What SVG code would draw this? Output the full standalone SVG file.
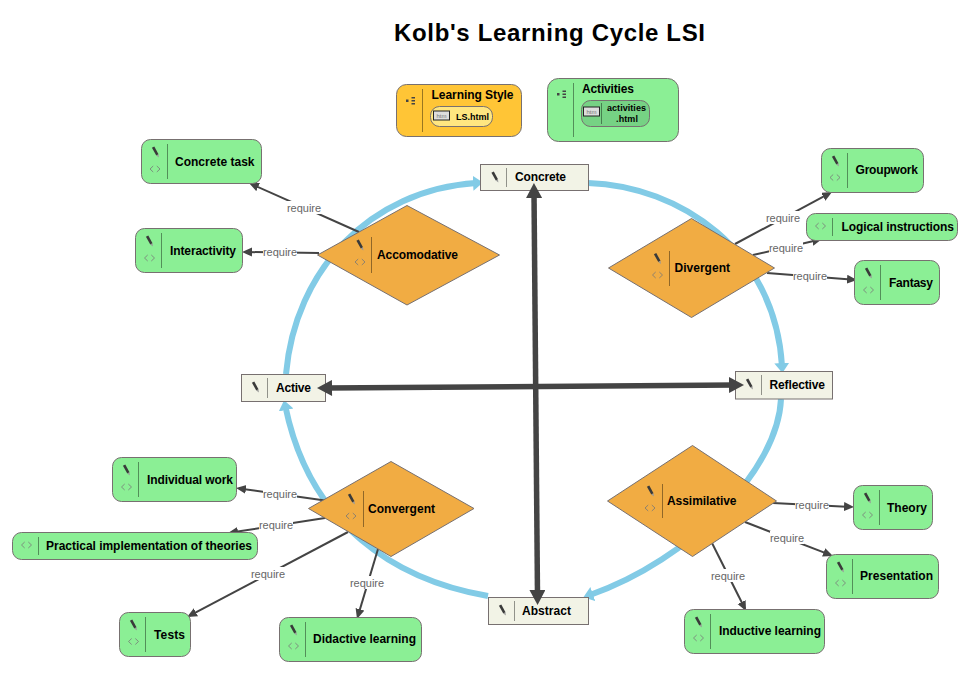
<svg xmlns="http://www.w3.org/2000/svg" xmlns:xlink="http://www.w3.org/1999/xlink" width="970" height="686" viewBox="0 0 970 686">
<style>
text{font-family:"Liberation Sans",Arial,sans-serif}
.t{font-size:12px;font-weight:bold;fill:#000}
.title{font-size:24px;font-weight:bold;fill:#000}
.small{font-size:9px;font-weight:bold;fill:#000}
.htm{font-size:6px;fill:#777;text-anchor:middle}
.req{font-size:11px;fill:#666;text-anchor:middle}
.lbg{fill:#fff}
.g{fill:#8bef95;stroke:#777070;stroke-width:1}
.o{fill:#f1ac43;stroke:#777070;stroke-width:1}
.y{fill:#ffc536;stroke:#777070;stroke-width:1}
.b{fill:#f2f3e6;stroke:#777070;stroke-width:1}
.d{stroke:#000;stroke-opacity:.4;stroke-width:1;fill:none}
.r{stroke:#444;stroke-width:2;fill:none;marker-end:url(#ah)}
.c{stroke:#82cbe6;stroke-width:6;fill:none;marker-end:url(#bh)}
.x{stroke:#444;stroke-width:5.5;fill:none;marker-start:url(#dhs);marker-end:url(#dh)}
</style>
<defs>
<marker id="ah" markerUnits="userSpaceOnUse" markerWidth="12" markerHeight="10" refX="7" refY="4.5" orient="auto"><path d="M0 0L10 4.5L0 9z" fill="#444"/></marker>
<marker id="bh" markerUnits="userSpaceOnUse" markerWidth="14" markerHeight="16" refX="3" refY="7.5" orient="auto"><path d="M0 0L10 7.5L0 15z" fill="#82cbe6"/></marker>
<marker id="dh" markerUnits="userSpaceOnUse" markerWidth="18" markerHeight="18" refX="6" refY="8" orient="auto"><path d="M0 0L15 8L0 16z" fill="#444"/></marker>
<marker id="dhs" markerUnits="userSpaceOnUse" markerWidth="18" markerHeight="18" refX="9" refY="8" orient="auto"><path d="M15 0L0 8L15 16z" fill="#444"/></marker>
<g id="pen"><path d="M-3.6 -4.2L-1.2 -5.4L3 2.3L.8 3.6z" fill="#3a3a3a"/><path d="M.8 3.6L3 2.3L3.4 5.4z" fill="#999"/></g>
<path id="chev" d="M-1.8 -3L-5 0L-1.8 3M1.8 -3L5 0L1.8 3" fill="none" stroke="#777" stroke-width=".8"/>
<g id="outline" fill="#444"><rect x="-4.5" y="-1" width="2.5" height="2.5"/><rect x="1" y="-3.5" width="3.5" height="1.5"/><rect x="1" y="-.5" width="3.5" height="1.5"/><rect x="1" y="2.5" width="3.5" height="1.5"/></g>
<g id="htmi"><rect x="-8" y="-4.5" width="16" height="9" fill="#ddd" stroke="#222" stroke-width="1"/></g>
</defs>

<text class="title" x="394" y="41" textLength="311">Kolb's Learning Cycle LSI</text>

<g id="connectors">
<path class="c" d="M781 399C778 470 690 560 590 595"/>
<path class="c" d="M588 183C680 186 775 250 782 366"/>
<path class="c" d="M488 596C395 580 310 525 285.500 407"/>
<path class="c" d="M286 374C295 270 370 190 476 183"/>
<line class="r" x1="359" y1="232" x2="251.7" y2="184.2"/>
<rect class="lbg" x="287" y="201" width="34" height="13"/><text class="req" x="304" y="211.700">require</text>
<line class="r" x1="319" y1="253" x2="245" y2="252"/>
<rect class="lbg" x="263" y="245" width="34" height="13"/><text class="req" x="280" y="255.700">require</text>
<line class="r" x1="735" y1="244" x2="829.4" y2="193.4"/>
<rect class="lbg" x="766" y="211" width="34" height="13"/><text class="req" x="783" y="221.700">require</text>
<line class="r" x1="753" y1="255" x2="819.1" y2="239.7"/>
<rect class="lbg" x="769" y="241" width="34" height="13"/><text class="req" x="786" y="251.700">require</text>
<line class="r" x1="767" y1="273" x2="854" y2="279.8"/>
<rect class="lbg" x="793" y="269" width="34" height="13"/><text class="req" x="810" y="279.700">require</text>
<line class="r" x1="325" y1="500.5" x2="239" y2="488.4"/>
<rect class="lbg" x="263" y="487" width="34" height="13"/><text class="req" x="280" y="497.700">require</text>
<line class="r" x1="325" y1="518" x2="231" y2="532.5"/>
<rect class="lbg" x="259" y="518" width="34" height="13"/><text class="req" x="276" y="528.700">require</text>
<line class="r" x1="348" y1="532" x2="189.7" y2="615.6"/>
<rect class="lbg" x="251" y="567" width="34" height="13"/><text class="req" x="268" y="577.700">require</text>
<line class="r" x1="378" y1="549" x2="357.9" y2="616.1"/>
<rect class="lbg" x="350" y="576" width="34" height="13"/><text class="req" x="367" y="586.700">require</text>
<line class="r" x1="773" y1="503" x2="851" y2="506.9"/>
<rect class="lbg" x="795" y="498" width="34" height="13"/><text class="req" x="812" y="508.700">require</text>
<line class="r" x1="745" y1="522" x2="830.2" y2="554.9"/>
<rect class="lbg" x="770" y="531" width="34" height="13"/><text class="req" x="787" y="541.700">require</text>
<line class="r" x1="712" y1="543" x2="744.7" y2="608.3"/>
<rect class="lbg" x="711" y="569" width="34" height="13"/><text class="req" x="728" y="579.700">require</text>
</g>

<g id="learning-style"><rect class="y" x="396.5" y="84.5" width="125" height="52" rx="10"/><line class="d" x1="422.5" y1="89" x2="422.5" y2="132"/><use xlink:href="#outline" x="410.5" y="100.5"/><text class="t" x="431.5" y="99" textLength="82">Learning Style</text>
<rect x="430.5" y="106.5" width="62" height="20" rx="9" fill="#ffe680" stroke="#777070"/><use xlink:href="#htmi" x="441.5" y="115.500"/><text class="htm" x="441.5" y="117.500">htm</text><text class="small" x="456" y="120" textLength="33">LS.html</text></g>
<g id="activities"><rect class="g" x="547.5" y="78.5" width="131" height="63" rx="11"/><line class="d" x1="573.5" y1="83" x2="573.5" y2="137"/><use xlink:href="#outline" x="561.5" y="94"/><text class="t" x="582" y="93" textLength="52">Activities</text>
<rect x="581.5" y="100.5" width="68" height="26" rx="9" fill="#76d284" stroke="#777070"/><line class="d" x1="601.5" y1="103" x2="601.5" y2="124"/><use xlink:href="#htmi" x="591.5" y="111.500"/><text class="htm" x="591.5" y="113.500">htm</text><text class="small" x="607" y="111" textLength="39">activities</text><text class="small" x="616" y="122" textLength="22">.html</text></g>

<g id="concrete"><rect class="b" x="480.5" y="164.5" width="108" height="26"/><line class="d" x1="506.5" y1="168" x2="506.5" y2="187"/><use xlink:href="#pen" x="495" y="177"/><text class="t" x="515" y="181" textLength="51">Concrete</text></g>
<g id="reflective"><rect class="b" x="735.5" y="371.5" width="97" height="27.5"/><line class="d" x1="761.5" y1="375" x2="761.5" y2="395"/><use xlink:href="#pen" x="749.5" y="384"/><text class="t" x="769.5" y="389" textLength="55.5">Reflective</text></g>
<g id="active"><rect class="b" x="241.5" y="374.5" width="84" height="27"/><line class="d" x1="267.5" y1="378" x2="267.5" y2="398"/><use xlink:href="#pen" x="255.5" y="387"/><text class="t" x="276" y="392" textLength="35">Active</text></g>
<g id="abstract"><rect class="b" x="488.5" y="597.5" width="100" height="27"/><line class="d" x1="514.5" y1="601" x2="514.5" y2="621"/><use xlink:href="#pen" x="502.5" y="610"/><text class="t" x="522" y="615" textLength="49">Abstract</text></g>

<g id="accomodative"><polygon class="o" points="317.5,255 407,205.5 499.5,255 407,305"/><line class="d" x1="371.5" y1="237" x2="371.5" y2="273"/><use xlink:href="#pen" x="360" y="245"/><use xlink:href="#chev" x="360" y="262"/><text class="t" x="377" y="259" textLength="81">Accomodative</text></g>
<g id="divergent"><polygon class="o" points="608.5,268 691.5,218.5 774.5,268 691.5,317.5"/><line class="d" x1="669.5" y1="251" x2="669.5" y2="286"/><use xlink:href="#pen" x="657.5" y="258.500"/><use xlink:href="#chev" x="657.5" y="275"/><text class="t" x="674.5" y="272" textLength="55.5">Divergent</text></g>
<g id="convergent"><polygon class="o" points="308.5,508.5 391,461.5 474,508.5 391,556.5"/><line class="d" x1="363.5" y1="491" x2="363.5" y2="527"/><use xlink:href="#pen" x="351.5" y="499"/><use xlink:href="#chev" x="351" y="516"/><text class="t" x="368" y="513" textLength="67">Convergent</text></g>
<g id="assimilative"><polygon class="o" points="607.5,501 692.5,445.5 776.5,501 692.5,556.5"/><line class="d" x1="662.5" y1="484" x2="662.5" y2="518"/><use xlink:href="#pen" x="650.5" y="491"/><use xlink:href="#chev" x="650" y="508"/><text class="t" x="667" y="505" textLength="69.5">Assimilative</text></g>

<g id="concrete-task"><rect class="g" x="141.5" y="139.5" width="120" height="44" rx="9"/><line class="d" x1="167.5" y1="144" x2="167.5" y2="179"/><use xlink:href="#pen" x="155.5" y="152"/><use xlink:href="#chev" x="155" y="169"/><text class="t" x="175" y="165.5" textLength="79.5">Concrete task</text></g>
<g id="interactivity"><rect class="g" x="135.5" y="228.5" width="107" height="44" rx="9"/><line class="d" x1="161.5" y1="233" x2="161.5" y2="268"/><use xlink:href="#pen" x="149.5" y="241"/><use xlink:href="#chev" x="149.5" y="258"/><text class="t" x="170" y="255" textLength="66">Interactivity</text></g>
<g id="groupwork"><rect class="g" x="821.5" y="148.5" width="102" height="44" rx="9"/><line class="d" x1="847.5" y1="153" x2="847.5" y2="188"/><use xlink:href="#pen" x="835.5" y="161"/><use xlink:href="#chev" x="835" y="177.5"/><text class="t" x="855.5" y="174" textLength="62.5">Groupwork</text></g>
<g id="logical-instructions"><rect class="g" x="806.5" y="213.5" width="151" height="27" rx="9"/><line class="d" x1="832.5" y1="218" x2="832.5" y2="236"/><use xlink:href="#chev" x="820.5" y="226"/><text class="t" x="841.5" y="231" textLength="112.5">Logical instructions</text></g>
<g id="fantasy"><rect class="g" x="854.5" y="260.5" width="85" height="44" rx="9"/><line class="d" x1="880.5" y1="265" x2="880.5" y2="300"/><use xlink:href="#pen" x="868.5" y="273"/><use xlink:href="#chev" x="868.5" y="290"/><text class="t" x="889" y="287" textLength="44">Fantasy</text></g>
<g id="theory"><rect class="g" x="853.5" y="485.5" width="79" height="44" rx="9"/><line class="d" x1="879.5" y1="490" x2="879.5" y2="525"/><use xlink:href="#pen" x="867.5" y="498"/><use xlink:href="#chev" x="867.5" y="515"/><text class="t" x="887" y="512" textLength="40">Theory</text></g>
<g id="presentation"><rect class="g" x="826.5" y="554.5" width="112" height="44" rx="9"/><line class="d" x1="852.5" y1="559" x2="852.5" y2="594"/><use xlink:href="#pen" x="840.5" y="567"/><use xlink:href="#chev" x="840.5" y="583"/><text class="t" x="860" y="580" textLength="73">Presentation</text></g>
<g id="inductive-learning"><rect class="g" x="684.5" y="609.5" width="140" height="44" rx="9"/><line class="d" x1="710.5" y1="614" x2="710.5" y2="649"/><use xlink:href="#pen" x="698.5" y="622"/><use xlink:href="#chev" x="698.5" y="638"/><text class="t" x="719" y="635" textLength="102">Inductive learning</text></g>
<g id="individual-work"><rect class="g" x="112.5" y="457.5" width="124" height="44" rx="9"/><line class="d" x1="138.5" y1="462" x2="138.5" y2="497"/><use xlink:href="#pen" x="126.5" y="470"/><use xlink:href="#chev" x="126.5" y="487"/><text class="t" x="147" y="484" textLength="86">Individual work</text></g>
<g id="practical"><rect class="g" x="12.5" y="532.5" width="245" height="27" rx="9"/><line class="d" x1="38.5" y1="537" x2="38.5" y2="555"/><use xlink:href="#chev" x="26.5" y="545"/><text class="t" x="46" y="550" textLength="206">Practical implementation of theories</text></g>
<g id="tests"><rect class="g" x="119.5" y="612.5" width="71" height="44" rx="9"/><line class="d" x1="145.5" y1="617" x2="145.5" y2="652"/><use xlink:href="#pen" x="133.5" y="625"/><use xlink:href="#chev" x="133.5" y="641.5"/><text class="t" x="154" y="639" textLength="31">Tests</text></g>
<g id="didactive-learning"><rect class="g" x="279.5" y="617.5" width="142" height="44" rx="9"/><line class="d" x1="305.5" y1="622" x2="305.5" y2="657"/><use xlink:href="#pen" x="293.5" y="630"/><use xlink:href="#chev" x="293.5" y="646"/><text class="t" x="313" y="643" textLength="103">Didactive learning</text></g>

<g id="axes">
<line class="x" x1="534" y1="192" x2="537.5" y2="596"/>
<line class="x" x1="326" y1="388" x2="735" y2="385"/>
</g>
</svg>
